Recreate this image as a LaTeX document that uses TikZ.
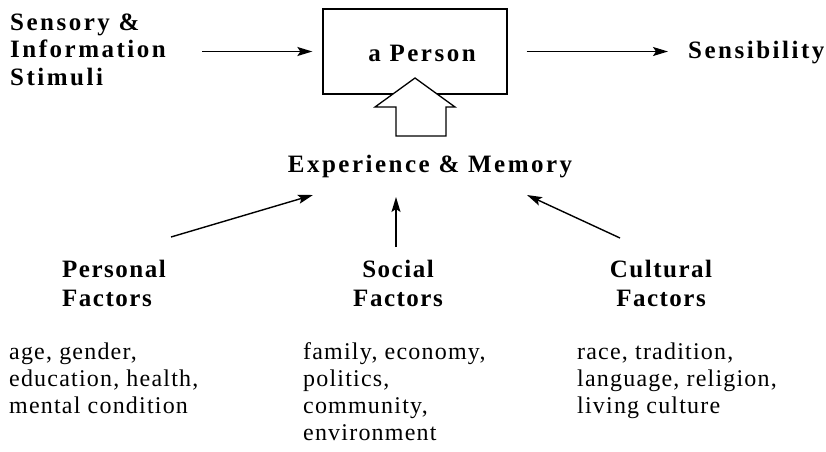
\documentclass[tikz,border=0pt]{standalone}
\usepackage{fontspec}
\setmainfont{Liberation Serif}
\newfontfamily\tbfont[LetterSpace=10]{Liberation Serif}
\newfontfamily\fbfont[LetterSpace=6]{Liberation Serif}
\newfontfamily\rgfont[LetterSpace=5]{Liberation Serif}
\usetikzlibrary{arrows.meta}
\tikzset{
  bigtxt/.style={font=\tbfont\bfseries\fontsize{25}{27.5}\selectfont, inner sep=0pt},
  factxt/.style={font=\fbfont\bfseries\fontsize{25}{29}\selectfont, inner sep=0pt},
  dettxt/.style={font=\rgfont\fontsize{24}{27}\selectfont, inner sep=0pt, align=left, anchor=base west},
  arr/.style={line width=1.4pt, -{Stealth[length=15pt,width=9pt,inset=3pt]}},
  personbox/.style={draw, line width=1.3pt, minimum width=184pt, minimum height=85pt, inner sep=0pt},
  fatarrow/.style={draw, line width=1.3pt, fill=white, line join=miter}
}
\begin{document}
\begin{tikzpicture}[x=1pt,y=-1pt]
\useasboundingbox (0,0) rectangle (826,451);
% top row (base anchor = baseline of the last line)
\node[bigtxt, align=left, anchor=base west] (stim) at (10,85) {Sensory \&\\Information\\Stimuli};
\node[personbox] (box) at (415,51.5) {};
\node[bigtxt, anchor=base] (person) at (422,61) {a Person};
\node[bigtxt, anchor=base west] (sens) at (688,58) {Sensibility};
\coordinate (inS) at (202,51.5);
\draw[arr] (inS) -- ([xshift=-10pt]box.west);
\draw[arr] ([xshift=19pt]box.east) -- ([xshift=-20pt]sens.west |- box.east);
% fat hollow arrow
\draw[fatarrow] (396,136) -- (396,107) -- (375,107) -- (box.south |- 0,78) -- (455,107) -- (446,107) -- (446,136) -- cycle;
% experience
\node[bigtxt, anchor=base] (exp) at (430,172.5) {Experience \& Memory};
% factors
\node[factxt, align=left, anchor=base west] (pers) at (62,306.5) {Personal\\Factors};
\node[factxt, align=center, anchor=base] (soc) at (398,306.5) {Social\\Factors};
\node[factxt, align=center, anchor=base] (cult) at (661,306.5) {Cultural\\Factors};
\coordinate (pS) at (171,237);
\coordinate (pE) at (313,195);
\coordinate (sS) at (396,247);
\coordinate (sE) at (396,197);
\coordinate (cS) at (620,238);
\coordinate (cE) at (527,195);
\draw[arr] (pS) -- (pE);
\draw[arr] (sS) -- (sE);
\draw[arr] (cS) -- (cE);
% details
\node[dettxt] (pdet) at (9,413) {age, gender,\\education, health,\\mental condition};
\node[dettxt] (sdet) at (303,440) {family, economy,\\politics,\\community,\\environment};
\node[dettxt] (cdet) at (577,413) {race, tradition,\\language, religion,\\living culture};
\end{tikzpicture}
\end{document}
